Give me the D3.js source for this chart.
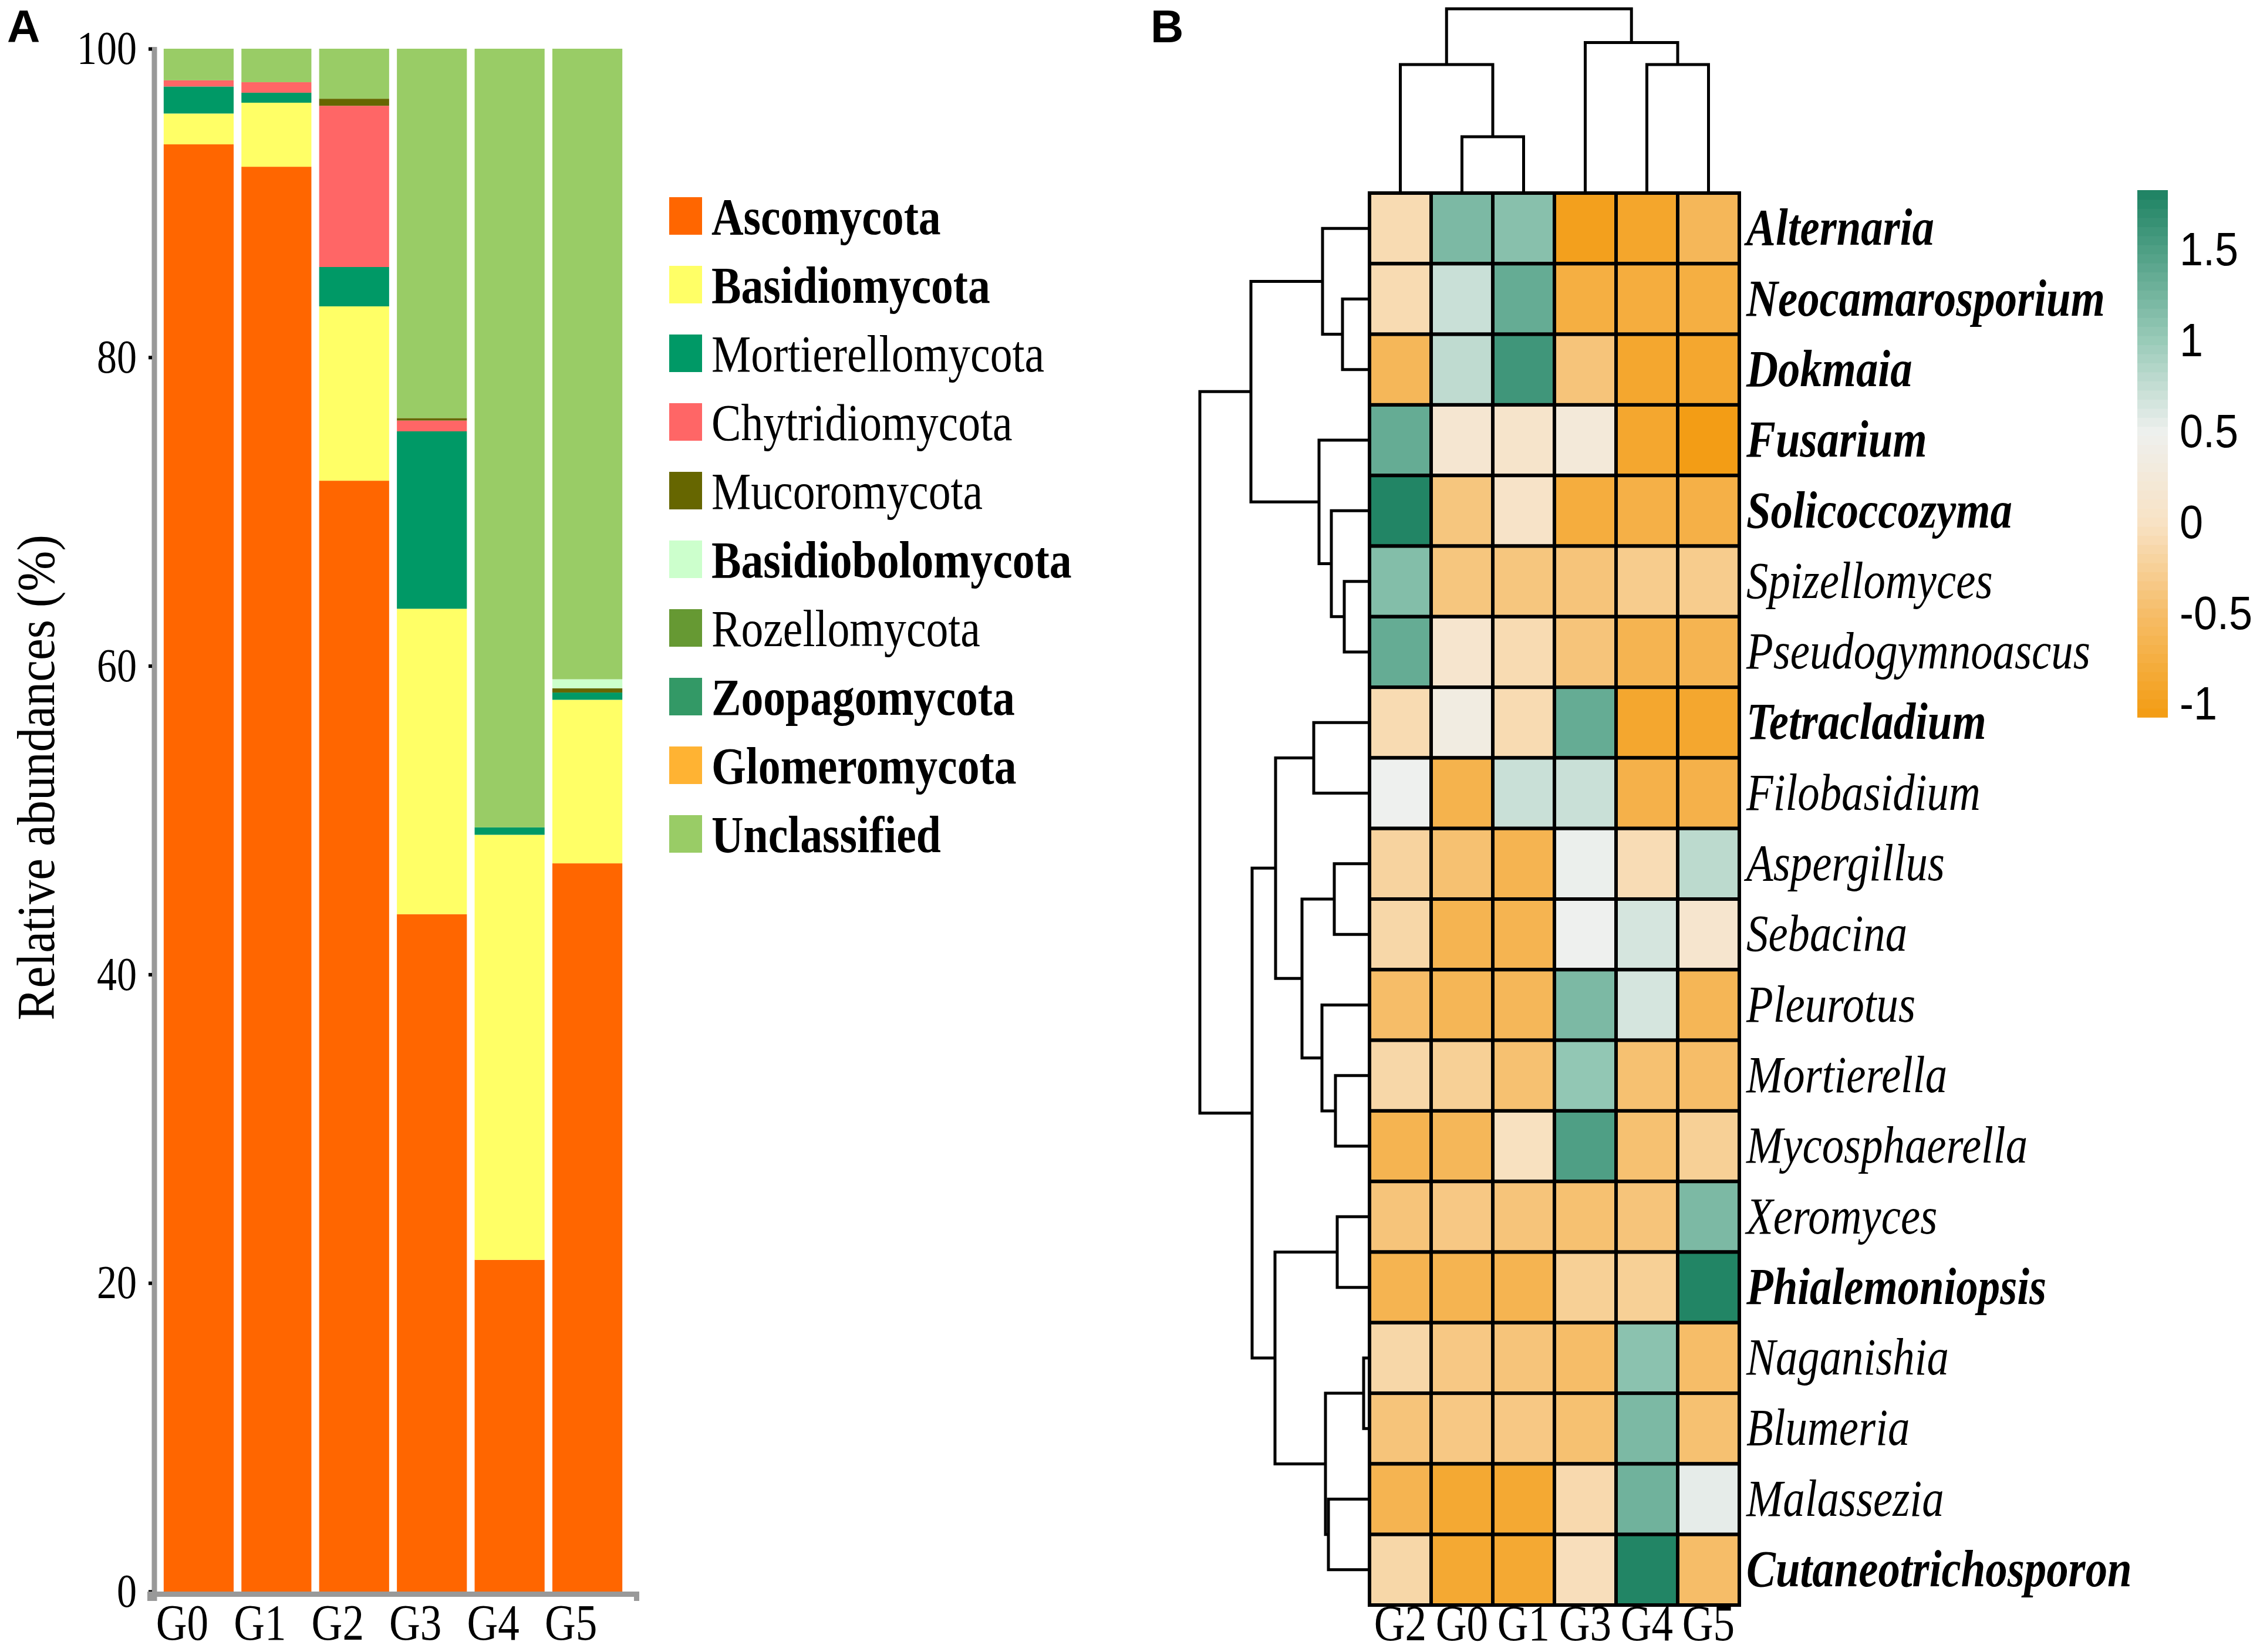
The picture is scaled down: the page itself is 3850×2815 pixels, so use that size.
<!DOCTYPE html>
<html>
<head>
<meta charset="utf-8">
<script src="https://cdn.jsdelivr.net/npm/d3@7"></script>
<style>
  body { margin: 0; background: #fff; }
  svg { display: block; }
  .serif { font-family: "Liberation Serif", "Times New Roman", serif; }
</style>
</head>
<body>
<div id="chart"></div>
<script>
// ---- panel A data: relative abundance (%) per group
const groups = ["G0", "G1", "G2", "G3", "G4", "G5"];
const phyla = ["Ascomycota", "Basidiomycota", "Mortierellomycota", "Chytridiomycota", "Mucoromycota",
  "Basidiobolomycota", "Rozellomycota", "Zoopagomycota", "Glomeromycota", "Unclassified"];
const phylaColors = ["#FF6600", "#FFFF66", "#009966", "#FF6666", "#666600",
  "#CCFFCC", "#669933", "#339966", "#FFB333", "#99CC66"];
const boldPhyla = ["Ascomycota", "Basidiomycota", "Basidiobolomycota", "Zoopagomycota", "Glomeromycota", "Unclassified"];

const ascomycota        = [93.8, 92.35, 72.0, 43.9, 21.5, 47.2];
const basidiomycota     = [2.0, 4.15, 11.3, 19.8, 27.55, 10.6];
const mortierellomycota = [1.75, 0.65, 2.55, 11.5, 0.48, 0.47];
const chytridiomycota   = [0.4, 0.68, 10.45, 0.7, 0, 0];
const mucoromycota      = [0, 0, 0.46, 0.16, 0, 0.27];
const basidiobolomycota = [0, 0, 0, 0, 0, 0.59];
const rozellomycota     = [0, 0, 0, 0, 0, 0];
const zoopagomycota     = [0, 0, 0, 0, 0, 0];
const glomeromycota     = [0, 0, 0, 0, 0, 0];
const unclassified      = [2.05, 2.17, 3.24, 23.94, 50.47, 40.87];
const yTicks = [0, 20, 40, 60, 80, 100];

// ---- panel B data: z-scores, columns in clustered order
const heatCols = ["G2", "G0", "G1", "G3", "G4", "G5"];
const genera = ["Alternaria", "Neocamarosporium", "Dokmaia", "Fusarium", "Solicoccozyma", "Spizellomyces",
  "Pseudogymnoascus", "Tetracladium", "Filobasidium", "Aspergillus", "Sebacina", "Pleurotus", "Mortierella",
  "Mycosphaerella", "Xeromyces", "Phialemoniopsis", "Naganishia", "Blumeria", "Malassezia", "Cutaneotrichosporon"];
const boldGenera = ["Alternaria", "Neocamarosporium", "Dokmaia", "Fusarium", "Solicoccozyma",
  "Tetracladium", "Phialemoniopsis", "Cutaneotrichosporon"];
const heatValues = [
  [-0.1, 1.2, 1.12, -1.0, -0.9, -0.6],
  [-0.1, 0.72, 1.35, -0.75, -0.78, -0.75],
  [-0.6, 0.78, 1.6, -0.4, -0.88, -0.88],
  [1.35, 0.15, 0.08, 0.25, -0.88, -1.05],
  [1.8, -0.38, 0.05, -0.78, -0.72, -0.72],
  [1.15, -0.38, -0.38, -0.4, -0.3, -0.3],
  [1.35, 0.12, -0.1, -0.4, -0.65, -0.65],
  [-0.1, 0.35, -0.1, 1.35, -0.88, -0.88],
  [0.5, -0.68, 0.72, 0.72, -0.7, -0.7],
  [-0.2, -0.45, -0.65, 0.52, -0.08, 0.8],
  [-0.15, -0.65, -0.65, 0.5, 0.65, 0.12],
  [-0.5, -0.62, -0.6, 1.2, 0.65, -0.62],
  [-0.15, -0.25, -0.45, 1.05, -0.45, -0.5],
  [-0.65, -0.6, -0.02, 1.5, -0.45, -0.25],
  [-0.4, -0.35, -0.4, -0.45, -0.4, 1.2],
  [-0.65, -0.65, -0.65, -0.25, -0.25, 1.8],
  [-0.15, -0.35, -0.4, -0.5, 1.1, -0.5],
  [-0.4, -0.35, -0.35, -0.45, 1.2, -0.45],
  [-0.65, -0.85, -0.85, -0.12, 1.28, 0.55],
  [-0.15, -0.85, -0.85, -0.05, 1.8, -0.5]
];
const scaleTicks = [-1, -0.5, 0, 0.5, 1, 1.5];
const scaleRange = [-1.07, 1.83];

// dendrograms: h = merge height
const colTree = {h: 3.27, c: [
  {h: 2.28, c: ["G2", {h: 1.0, c: ["G0", "G1"]}]},
  {h: 2.67, c: ["G3", {h: 2.28, c: ["G4", "G5"]}]}
]};
const rowTree = {h: 2.89, c: [
  {h: 2.02, c: [
    {h: 0.80, c: ["Alternaria", {h: 0.46, c: ["Neocamarosporium", "Dokmaia"]}]},
    {h: 0.86, c: ["Fusarium", {h: 0.65, c: ["Solicoccozyma", {h: 0.43, c: ["Spizellomyces", "Pseudogymnoascus"]}]}]}
  ]},
  {h: 2.00, c: [
    {h: 1.60, c: [
      {h: 0.95, c: ["Tetracladium", "Filobasidium"]},
      {h: 1.15, c: [{h: 0.60, c: ["Aspergillus", "Sebacina"]},
                    {h: 0.81, c: ["Pleurotus", {h: 0.58, c: ["Mortierella", "Mycosphaerella"]}]}]}
    ]},
    {h: 1.61, c: [
      {h: 0.55, c: ["Xeromyces", "Phialemoniopsis"]},
      {h: 0.75, c: [{h: 0.10, c: ["Naganishia", "Blumeria"]}, {h: 0.70, c: ["Malassezia", "Cutaneotrichosporon"]}]}
    ]}
  ]}
]};

const W = 3850, H = 2815;
const SX = 0.85; // the figure text is a bit narrow

const svg = d3.select("#chart").append("svg")
  .attr("width", W).attr("height", H)
  .attr("viewBox", `0 0 ${W} ${H}`);
svg.append("rect").attr("width", W).attr("height", H).attr("fill", "#fff");

// panel letters
[["A", 12], ["B", 1960]].forEach(([t, x]) => {
  svg.append("text")
    .attr("transform", `translate(${x},72)`)
    .attr("font-family", "Liberation Sans, Arial, sans-serif")
    .attr("font-weight", "bold").attr("font-size", 78)
    .text(t);
});

// ================= panel A =================
const x = d3.scaleBand().domain(groups).range([255, 1084]).paddingInner(0.1).paddingOuter(0.18);
const y = d3.scaleLinear().domain([0, 100]).range([2712, 83]);

const series = [ascomycota, basidiomycota, mortierellomycota, chytridiomycota, mucoromycota,
  basidiobolomycota, rozellomycota, zoopagomycota, glomeromycota, unclassified];
const rows = groups.map((g, i) => {
  const r = {group: g};
  phyla.forEach((p, j) => r[p] = series[j][i]);
  return r;
});
const stacked = d3.stack().keys(phyla)(rows);
const color = d3.scaleOrdinal().domain(phyla).range(phylaColors);

const panelA = svg.append("g");
panelA.selectAll("g.layer")
  .data(stacked)
  .join("g")
    .attr("class", "layer")
    .attr("fill", d => color(d.key))
  .selectAll("rect")
  .data(d => d)
  .join("rect")
    .attr("x", d => x(d.data.group))
    .attr("y", d => y(d[1]))
    .attr("width", x.bandwidth())
    .attr("height", d => y(d[0]) - y(d[1]));

// y axis
const yAxis = panelA.append("g")
  .attr("transform", "translate(263,0)")
  .call(d3.axisLeft(y).tickValues(yTicks).tickSizeOuter(0).tickSize(9));
yAxis.select(".domain").attr("stroke", "#999").attr("stroke-width", 9)
  .attr("d", `M0,${y(100) - 3}V2728`);
yAxis.selectAll(".tick line").attr("stroke", "#000").attr("stroke-width", 6)
  .attr("x1", -4).attr("x2", -10);
yAxis.selectAll(".tick text")
  .attr("class", "serif").attr("font-size", 80).attr("fill", "#000")
  .attr("transform", `scale(${SX},1)`)
  .attr("x", -30 / SX);

// x axis (labels sit a little left of the bars, as in the figure)
const xAxis = panelA.append("g")
  .attr("transform", "translate(0,2716)")
  .call(d3.axisBottom(x).tickSizeInner(0).tickSizeOuter(12));
xAxis.select(".domain").attr("stroke", "#999").attr("stroke-width", 9);
xAxis.selectAll(".tick text")
  .attr("class", "serif").attr("font-size", 86).attr("fill", "#000")
  .attr("transform", `translate(-28,0) scale(${SX},1)`)
  .attr("y", 78).attr("dy", 0);

// y label
panelA.append("text")
  .attr("class", "serif")
  .attr("transform", `translate(92,1325) rotate(-90) scale(0.9,1)`)
  .attr("text-anchor", "middle")
  .attr("font-size", 92)
  .text("Relative abundances (%)");

// legend
const legend = panelA.append("g").selectAll("g")
  .data(phyla)
  .join("g")
    .attr("transform", (d, i) => `translate(1140,${368 + i * 117})`);
legend.append("rect")
  .attr("x", 0).attr("y", -32).attr("width", 56).attr("height", 64)
  .attr("fill", d => color(d));
legend.append("text")
  .attr("class", "serif")
  .attr("transform", `translate(72,0) scale(${SX},1)`)
  .attr("dy", "0.35em")
  .attr("font-size", 89)
  .attr("font-weight", d => boldPhyla.includes(d) ? "bold" : "normal")
  .text(d => d);

// ================= panel B =================
const cx = d3.scaleBand().domain(heatCols).range([2333, 2963]);
const ry = d3.scaleBand().domain(genera).range([329, 2735]);
const heatColor = d3.scaleLinear()
  .domain([-1.07, -0.5, 0, 0.5, 1, 1.83])
  .range(["#F39C12", "#F6BD68", "#F8E2C4", "#EEF0EE", "#9ACBB9", "#1D8262"]);

const cells = [];
genera.forEach((g, i) => heatCols.forEach((c, j) => cells.push({g, c, v: heatValues[i][j]})));

const panelB = svg.append("g");
panelB.selectAll("rect.cell")
  .data(cells)
  .join("rect")
    .attr("class", "cell")
    .attr("x", d => cx(d.c))
    .attr("y", d => ry(d.g))
    .attr("width", cx.bandwidth())
    .attr("height", ry.bandwidth())
    .attr("fill", d => heatColor(d.v))
    .attr("stroke", "#000")
    .attr("stroke-width", 6);

// column labels
const colAxis = panelB.append("g")
  .attr("transform", `translate(0,${ry.range()[1]})`)
  .call(d3.axisBottom(cx).tickSize(0));
colAxis.select(".domain").remove();
colAxis.selectAll(".tick text")
  .attr("class", "serif").attr("font-size", 86).attr("fill", "#000")
  .attr("transform", `scale(${SX},1)`)
  .attr("y", 60).attr("dy", 0);

// row labels
const rowAxis = panelB.append("g")
  .attr("transform", `translate(${cx.range()[1]},0)`)
  .call(d3.axisRight(ry).tickSize(0));
rowAxis.select(".domain").remove();
rowAxis.selectAll(".tick text")
  .attr("class", "serif").attr("font-size", 88).attr("fill", "#000")
  .attr("font-style", "italic")
  .attr("font-weight", d => boldGenera.includes(d) ? "bold" : "normal")
  .attr("transform", `scale(${SX},1)`)
  .attr("x", 12 / SX);

// dendrograms
function elbows(tree, leafPos, distPos, vertical) {
  const root = d3.hierarchy(tree, d => (typeof d === "string") ? null : d.c);
  root.eachAfter(n => {
    n.pos = n.children ? d3.mean(n.children, k => k.pos) : leafPos(n.data);
    n.dist = n.children ? distPos(n.data.h) : distPos(0);
  });
  const paths = [];
  root.each(n => {
    if (!n.children) return;
    const [a, b] = n.children;
    paths.push(vertical
      ? `M${a.pos},${a.dist}V${n.dist}H${b.pos}V${b.dist}`
      : `M${a.dist},${a.pos}H${n.dist}V${b.pos}H${b.dist}`);
  });
  return paths;
}
const colDist = d3.scaleLinear().domain([0, colTree.h]).range([329, 15]);
const rowDist = d3.scaleLinear().domain([0, rowTree.h]).range([2333, 2044]);

panelB.append("g").selectAll("path")
  .data(elbows(colTree, d => cx(d) + cx.bandwidth() / 2, colDist, true))
  .join("path")
    .attr("d", d => d)
    .attr("fill", "none").attr("stroke", "#000").attr("stroke-width", 5);
panelB.append("g").selectAll("path")
  .data(elbows(rowTree, d => ry(d) + ry.bandwidth() / 2, rowDist, false))
  .join("path")
    .attr("d", d => d)
    .attr("fill", "none").attr("stroke", "#000").attr("stroke-width", 5);

// color key
const cbY = d3.scaleLinear().domain(scaleRange).range([1222, 324]);
const steps = d3.range(scaleRange[0], scaleRange[1], 0.05);
panelB.append("g").selectAll("rect")
  .data(steps)
  .join("rect")
    .attr("x", 3641)
    .attr("y", d => cbY(Math.min(d + 0.05, scaleRange[1])))
    .attr("width", 52)
    .attr("height", d => cbY(d) - cbY(Math.min(d + 0.05, scaleRange[1])) + 0.8)
    .attr("fill", d => heatColor(d + 0.025));

const cbAxis = panelB.append("g")
  .attr("transform", "translate(3693,0)")
  .call(d3.axisRight(cbY).tickValues(scaleTicks).tickSize(0).tickFormat(d => String(d)));
cbAxis.select(".domain").remove();
cbAxis.selectAll(".tick text")
  .attr("font-family", "Liberation Sans, Arial, sans-serif")
  .attr("font-size", 80).attr("fill", "#000")
  .attr("transform", "scale(0.9,1)")
  .attr("x", 20 / 0.9);
</script>
</body>
</html>
